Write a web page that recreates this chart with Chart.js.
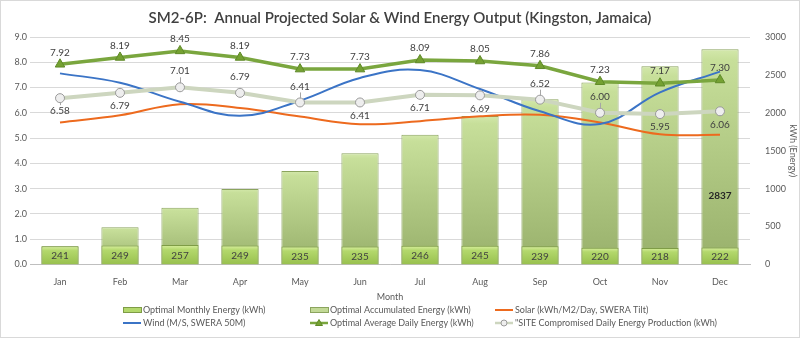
<!DOCTYPE html>
<html lang="en">
<head>
    <meta charset="UTF-8">
    <title>SM2-6P Annual Projected Solar & Wind Energy Output</title>
    <script src="https://cdn.jsdelivr.net/npm/chart.js"></script>
    <style>
        html, body { margin: 0; padding: 0; background: #fff; }
        #wrap { width: 800px; height: 338px; }
    </style>
</head>
<body>
<div id="wrap"><canvas id="energyChart" width="800" height="338"></canvas></div>

<script>
    // values
    const months = ['Jan', 'Feb', 'Mar', 'Apr', 'May', 'Jun', 'Jul', 'Aug', 'Sep', 'Oct', 'Nov', 'Dec'];
    const monthlyEnergy = [241, 249, 257, 249, 235, 235, 246, 245, 239, 220, 218, 222];
    const accumulatedEnergy = [241, 490, 747, 996, 1231, 1466, 1712, 1957, 2180, 2400, 2615, 2837];
    const solar = [5.62, 5.90, 6.34, 6.19, 5.85, 5.55, 5.67, 5.86, 5.92, 5.62, 5.15, 5.13];
    const wind = [7.56, 7.19, 6.44, 5.88, 6.48, 7.38, 7.69, 6.94, 6.06, 5.56, 6.81, 7.63];
    const optimalDaily = [7.92, 8.19, 8.45, 8.19, 7.73, 7.73, 8.09, 8.05, 7.86, 7.23, 7.17, 7.30];
    const siteDaily = [6.58, 6.79, 7.01, 6.79, 6.41, 6.41, 6.71, 6.69, 6.52, 6.00, 5.95, 6.06];

    const FONT = 'Lato, "Open Sans", sans-serif';
    const GREY = '#595959';

    // vertical gradient per bar, built from the y1 scale
    function barGradient(stops, fallback) {
        return function(c) {
            const chart = c.chart;
            if (!chart.chartArea || c.type !== 'data') return fallback;
            const y1 = chart.scales.y1;
            const top = y1.getPixelForValue(c.raw);
            const base = y1.getPixelForValue(0);
            if (!isFinite(top) || top === base) return fallback;
            const g = chart.ctx.createLinearGradient(0, top, 0, base);
            stops.forEach(s => g.addColorStop(s[0], s[1]));
            return g;
        };
    }

    // value labels drawn next to points / inside bars
    const labelPlugin = {
        id: 'valueLabels',
        afterDatasetsDraw(chart) {
            const ctx = chart.ctx;
            ctx.save();
            ctx.font = '10px ' + FONT;
            ctx.textAlign = 'center';
            ctx.textBaseline = 'middle';

            // monthly bar values
            chart.getDatasetMeta(0).data.forEach((bar, i) => {
                ctx.fillStyle = '#404040';
                ctx.fillText(monthlyEnergy[i], bar.x, (bar.y + bar.base) / 2 + 1);
            });

            // accumulated total on last bar
            const accMeta = chart.getDatasetMeta(1).data;
            const last = accMeta[accMeta.length - 1];
            ctx.font = 'bold 10px ' + FONT;
            ctx.fillStyle = '#262626';
            ctx.fillText(accumulatedEnergy[accumulatedEnergy.length - 1], last.x, last.base - (last.base - last.y) * 0.32);

            ctx.font = '10px ' + FONT;
            ctx.fillStyle = '#404040';
            // optimal daily: above
            chart.getDatasetMeta(4).data.forEach((pt, i) => {
                ctx.fillText(optimalDaily[i].toFixed(2), pt.x, pt.y - 12);
            });

            // site daily: above / below like the original
            const place = ['b', 'b', 'a', 'a', 'a', 'b', 'b', 'b', 'a', 'a', 'b', 'b'];
            const lead = [true, false, true, false, true, false, false, false, true, true, false, false];
            chart.getDatasetMeta(5).data.forEach((pt, i) => {
                const dy = place[i] === 'a' ? -16 : 13;
                if (lead[i]) {
                    ctx.strokeStyle = '#a6a6a6';
                    ctx.lineWidth = 1;
                    ctx.beginPath();
                    ctx.moveTo(pt.x + 0.5, pt.y + (dy < 0 ? -4 : 4));
                    ctx.lineTo(pt.x + 0.5, pt.y + dy + (dy < 0 ? 6 : -6));
                    ctx.stroke();
                }
                ctx.fillText(siteDaily[i].toFixed(2), pt.x, pt.y + dy);
            });
            ctx.restore();
        }
    };

    // legend laid out in three aligned columns, plus outer frame
    const legendPlugin = {
        id: 'gridLegend',
        afterDraw(chart) {
            const ctx = chart.ctx;
            const cols = [123, 310, 495];
            const rows = [310, 323];
            const ds = chart.data.datasets;
            const slots = [[0, 0, 0], [1, 1, 0], [2, 2, 0], [3, 0, 1], [4, 1, 1], [5, 2, 1]];
            ctx.save();
            ctx.font = '9px ' + FONT;
            ctx.textBaseline = 'middle';
            ctx.textAlign = 'left';
            slots.forEach(([idx, c, r]) => {
                const d = ds[idx];
                const x = cols[c], y = rows[r];
                if (d.type === 'bar') {
                    ctx.fillStyle = d.legendFill;
                    ctx.strokeStyle = d.borderColor;
                    ctx.lineWidth = 1;
                    ctx.fillRect(x, y - 2.5, 18, 5);
                    ctx.strokeRect(x + 0.5, y - 2.5, 18, 5);
                } else {
                    ctx.strokeStyle = d.borderColor;
                    ctx.lineWidth = Math.min(d.borderWidth, 2.5);
                    ctx.beginPath();
                    ctx.moveTo(x, y);
                    ctx.lineTo(x + 18, y);
                    ctx.stroke();
                    if (d.pointRadius > 0) {
                        ctx.fillStyle = d.pointBackgroundColor;
                        ctx.strokeStyle = d.pointBorderColor;
                        ctx.lineWidth = 1;
                        ctx.beginPath();
                        if (d.pointStyle === 'triangle') {
                            ctx.moveTo(x + 9, y - 3.5);
                            ctx.lineTo(x + 12.5, y + 2.5);
                            ctx.lineTo(x + 5.5, y + 2.5);
                            ctx.closePath();
                        } else {
                            ctx.arc(x + 9, y, 3, 0, Math.PI * 2);
                        }
                        ctx.fill();
                        ctx.stroke();
                    }
                }
                ctx.fillStyle = GREY;
                ctx.fillText(d.label, x + 20, y);
            });
            ctx.strokeStyle = '#d9d9d9';
            ctx.lineWidth = 1;
            ctx.strokeRect(0.5, 0.5, chart.width - 1, chart.height - 1);
            ctx.restore();
        }
    };

    const ctx = document.getElementById('energyChart').getContext('2d');
    const chart = new Chart(ctx, {
        data: {
            labels: months,
            datasets: [
                {
                    type: 'bar',
                    label: 'Optimal Monthly Energy (kWh)',
                    data: monthlyEnergy,
                    yAxisID: 'y1',
                    grouped: false,
                    order: 5,
                    backgroundColor: barGradient([[0, '#d9ef9f'], [0.25, '#b3d86c'], [1, '#98c04e']], '#a9d162'),
                    legendFill: '#b3d86c',
                    borderColor: '#7e9c46',
                    borderWidth: 1,
                    barPercentage: 0.62,
                    categoryPercentage: 1
                },
                {
                    type: 'bar',
                    label: 'Optimal Accumulated Energy (kWh)',
                    data: accumulatedEnergy,
                    yAxisID: 'y1',
                    grouped: false,
                    order: 6,
                    backgroundColor: barGradient([[0, '#d3e8ab'], [0.05, '#c7df9a'], [1, '#98b06b']], '#b6cf88'),
                    legendFill: '#c2d996',
                    borderColor: '#8ba45e',
                    borderWidth: 1,
                    barPercentage: 0.62,
                    categoryPercentage: 1
                },
                {
                    type: 'line',
                    label: 'Solar (kWh/M2/Day, SWERA Tilt)',
                    data: solar,
                    yAxisID: 'y',
                    order: 4,
                    borderColor: '#ed6a1e',
                    borderWidth: 2,
                    pointRadius: 0,
                    tension: 0.4,
                    fill: false
                },
                {
                    type: 'line',
                    label: 'Wind (M/S, SWERA 50M)',
                    data: wind,
                    yAxisID: 'y',
                    order: 3,
                    borderColor: '#3b74c6',
                    borderWidth: 2,
                    pointRadius: 0,
                    tension: 0.4,
                    fill: false
                },
                {
                    type: 'line',
                    label: 'Optimal Average Daily Energy (kWh)',
                    data: optimalDaily,
                    yAxisID: 'y',
                    order: 1,
                    borderColor: '#7aa63e',
                    borderWidth: 3.5,
                    pointStyle: 'triangle',
                    pointRadius: 5.5,
                    pointBackgroundColor: '#75a132',
                    pointBorderColor: '#5f8a28',
                    pointBorderWidth: 1,
                    tension: 0,
                    fill: false
                },
                {
                    type: 'line',
                    label: '"SITE Compromised Daily Energy Production (kWh)',
                    data: siteDaily,
                    yAxisID: 'y',
                    order: 2,
                    borderColor: '#cdd6bf',
                    borderWidth: 4,
                    pointStyle: 'circle',
                    pointRadius: 4.5,
                    pointBackgroundColor: '#eeeeee',
                    pointBorderColor: '#9a9a9a',
                    pointBorderWidth: 1,
                    tension: 0,
                    fill: false
                }
            ]
        },
        options: {
            responsive: false,
            animation: false,
            layout: { padding: { left: 0, right: 0, top: 0, bottom: 36 } },
            plugins: {
                legend: { display: false },
                tooltip: { enabled: false },
                title: {
                    display: true,
                    text: 'SM2-6P:  Annual Projected Solar & Wind Energy Output (Kingston, Jamaica)',
                    color: '#404040',
                    font: { family: FONT, size: 15, weight: '600' },
                    padding: { top: 9, bottom: 10 }
                }
            },
            scales: {
                x: {
                    grid: { display: false },
                    border: { color: '#bfbfbf' },
                    ticks: { color: GREY, font: { family: FONT, size: 9 }, padding: 4 },
                    title: { display: true, text: 'Month', color: GREY, font: { family: FONT, size: 9 }, padding: { top: 0, bottom: 0 } }
                },
                y: {
                    position: 'left',
                    min: 0,
                    max: 9,
                    ticks: {
                        stepSize: 1,
                        color: GREY,
                        font: { family: FONT, size: 9 },
                        callback: v => v.toFixed(1)
                    },
                    grid: { color: '#d9d9d9', drawTicks: false },
                    border: { display: false },
                    afterFit: s => { s.width = 30; }
                },
                y1: {
                    position: 'right',
                    min: 0,
                    max: 3000,
                    ticks: {
                        stepSize: 500,
                        color: GREY,
                        font: { family: FONT, size: 9 },
                        padding: 7,
                        callback: v => String(v)
                    },
                    grid: { display: false },
                    border: { display: false },
                    title: { display: true, text: 'kWh (Energy)', color: GREY, font: { family: FONT, size: 9 }, padding: { top: 2, bottom: 4 } },
                    afterFit: s => { s.width = 50; }
                }
            }
        },
        plugins: [labelPlugin, legendPlugin]
    });
</script>
</body>
</html>
